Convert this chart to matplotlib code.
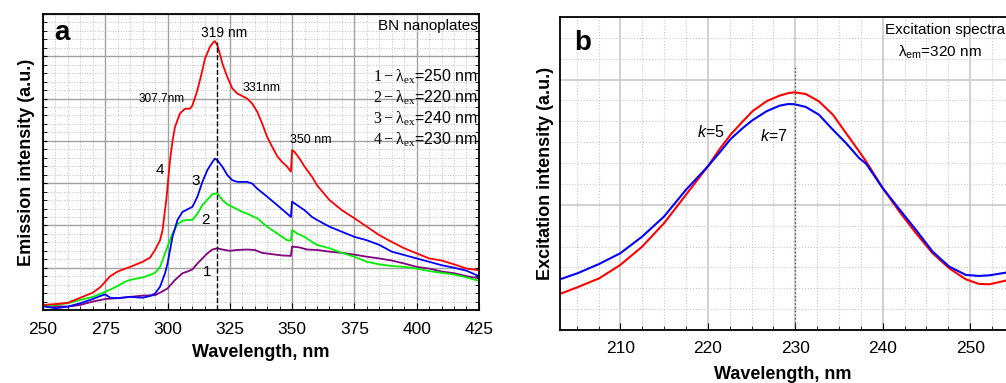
import numpy as np
import matplotlib
matplotlib.use("Agg")
import matplotlib.pyplot as plt
from matplotlib.ticker import MultipleLocator

plt.rcParams['font.family'] = ['Liberation Sans', 'DejaVu Sans']
plt.rcParams['mathtext.fontset'] = 'custom'
plt.rcParams['mathtext.rm'] = 'Liberation Serif'
plt.rcParams['mathtext.it'] = 'Liberation Sans:italic'
plt.rcParams['mathtext.sf'] = 'Liberation Sans'

# ---- panel a: emission spectra ----
wl_4 = [250, 255, 260, 265, 270, 273, 275, 277, 280, 285, 290, 293, 295, 297, 298, 299.5, 300, 301, 302, 303,
        305, 307, 309, 310, 312, 314, 315, 317, 318.5, 319, 320, 321, 322, 324, 326, 328, 330, 332, 334, 336,
        338, 340, 342, 344, 346, 348, 349.5, 350, 351, 353, 355, 358, 360, 365, 370, 375, 380, 385, 390, 395,
        400, 405, 410, 415, 420, 425]
em_4 = [0.12, 0.14, 0.17, 0.29, 0.41, 0.54, 0.67, 0.80, 0.91, 1.02, 1.14, 1.24, 1.42, 1.65, 1.89, 2.6, 2.91, 3.54, 4.0, 4.33,
        4.65, 4.76, 4.76, 4.84, 5.2, 5.67, 5.94, 6.22, 6.34, 6.36, 6.26, 6.06, 5.83, 5.51, 5.24, 5.12, 5.06, 5.0, 4.88, 4.69,
        4.41, 4.09, 3.86, 3.64, 3.5, 3.39, 3.27, 3.78, 3.74, 3.58, 3.39, 3.15, 2.95, 2.6, 2.36, 2.17, 1.97, 1.77, 1.61, 1.46,
        1.34, 1.22, 1.17, 1.08, 0.98, 0.94]

wl_3 = [250, 255, 260, 265, 270, 273, 275, 277, 280, 285, 290, 293, 295, 297, 299, 300, 302, 304, 306, 308,
        310, 312, 314, 316, 318, 319, 320, 322, 324, 326, 328, 332, 334, 336, 340, 344, 348, 349.5, 350, 352,
        355, 358, 360, 365, 370, 375, 380, 385, 390, 395, 400, 405, 410, 415, 420, 425]
em_3 = [0.09, 0.04, 0.08, 0.16, 0.26, 0.33, 0.37, 0.29, 0.28, 0.31, 0.29, 0.33, 0.39, 0.55, 0.87, 1.1, 1.73, 2.13, 2.32, 2.38,
        2.44, 2.68, 3.03, 3.31, 3.5, 3.58, 3.54, 3.39, 3.19, 3.07, 3.03, 3.03, 2.99, 2.87, 2.68, 2.48, 2.28, 2.2, 2.56, 2.48,
        2.36, 2.2, 2.13, 1.97, 1.85, 1.73, 1.65, 1.54, 1.38, 1.3, 1.22, 1.14, 1.06, 1.0, 0.93, 0.8]

wl_2 = [250, 255, 260, 265, 270, 275, 278, 280, 283, 285, 288, 290, 293, 295, 297, 299, 300, 302, 304, 306,
        308, 310, 312, 314, 316, 318, 320, 322, 324, 326, 330, 332, 334, 336, 340, 344, 348, 349.5, 350, 352,
        355, 358, 360, 365, 370, 375, 380, 385, 390, 395, 400, 405, 410, 415, 420, 425]
em_2 = [0.09, 0.12, 0.16, 0.24, 0.31, 0.43, 0.51, 0.57, 0.67, 0.71, 0.75, 0.77, 0.83, 0.88, 1.02, 1.34, 1.5, 1.81, 2.03, 2.11,
        2.13, 2.13, 2.28, 2.48, 2.61, 2.74, 2.76, 2.6, 2.5, 2.44, 2.32, 2.28, 2.22, 2.17, 1.97, 1.81, 1.65, 1.64, 1.89, 1.81,
        1.73, 1.61, 1.54, 1.46, 1.35, 1.26, 1.14, 1.08, 1.04, 1.02, 0.98, 0.92, 0.88, 0.84, 0.77, 0.69]

wl_1 = [250, 255, 260, 265, 270, 275, 280, 285, 290, 295, 297, 300, 303, 306, 308, 310, 312, 314, 316, 318,
        320, 322, 325, 328, 332, 335, 338, 342, 346, 349.5, 350, 353, 356, 360, 365, 370, 375, 380, 385, 390,
        395, 400, 405, 410, 415, 420, 425]
em_1 = [0.12, 0.09, 0.08, 0.12, 0.2, 0.26, 0.28, 0.31, 0.34, 0.35, 0.41, 0.51, 0.71, 0.87, 0.91, 0.96, 1.1, 1.22, 1.34, 1.43,
        1.46, 1.43, 1.4, 1.42, 1.43, 1.42, 1.35, 1.32, 1.29, 1.28, 1.5, 1.48, 1.43, 1.42, 1.38, 1.35, 1.31, 1.26, 1.22, 1.17,
        1.1, 1.02, 0.98, 0.91, 0.87, 0.8, 0.75]

legend_lines = [r"$\mathrm{1-\lambda}_{\mathrm{ex}}$=250 nm", r"$\mathrm{2-\lambda}_{\mathrm{ex}}$=220 nm",
                r"$\mathrm{3-\lambda}_{\mathrm{ex}}$=240 nm", r"$\mathrm{4-\lambda}_{\mathrm{ex}}$=230 nm"]

# ---- panel b: excitation spectra ----
wl_b = [203.1, 205.1, 207.6, 210, 212.5, 215, 217.5, 220, 221.3, 222.6, 224, 225.1, 226.7, 228.2, 229.2, 229.9,
        231.2, 232.7, 234.3, 235.8, 237.3, 238.1, 240, 241.9, 243.8, 245.7, 247.6, 249.5, 251, 252.2, 254.1]
ex_k5 = [1.73, 2.05, 2.48, 3.12, 4.0, 5.12, 6.48, 7.84, 8.64, 9.36, 10.0, 10.48, 10.96, 11.23, 11.35, 11.39,
         11.31, 10.96, 10.32, 9.44, 8.56, 8.08, 6.8, 5.68, 4.64, 3.68, 2.96, 2.43, 2.21, 2.19, 2.37]
ex_k7 = [2.43, 2.72, 3.17, 3.68, 4.48, 5.44, 6.72, 7.84, 8.48, 9.15, 9.68, 10.05, 10.48, 10.75, 10.83, 10.82,
         10.69, 10.32, 9.6, 8.96, 8.24, 7.97, 6.8, 5.79, 4.8, 3.76, 3.04, 2.64, 2.59, 2.62, 2.75]

fig = plt.figure(figsize=(10.06, 3.83), dpi=100)

# panel a
ax = fig.add_axes([0.0427, 0.1906, 0.4334, 0.7728])
ax.plot(wl_1, em_1, color='#800080', lw=1.3)
ax.plot(wl_2, em_2, color='#00ee00', lw=1.3)
ax.plot(wl_3, em_3, color='#0000ff', lw=1.3)
ax.plot(wl_4, em_4, color='#ff0000', lw=1.3)
ax.plot([319.7, 319.7], [0, 6.35], 'k--', lw=1.0)
ax.set_xlim(250, 425)
ax.set_ylim(0, 7)
ax.xaxis.set_major_locator(MultipleLocator(25))
ax.xaxis.set_minor_locator(MultipleLocator(5))
ax.yaxis.set_major_locator(MultipleLocator(1))
ax.yaxis.set_minor_locator(MultipleLocator(0.2))
ax.grid(which='major', color='#a0a0a0', lw=1.0, ls='-')
ax.grid(which='minor', color='#c0c0c0', lw=0.7, ls=':')
ax.tick_params(which='both', direction='in', left=True, right=True, top=False)
ax.tick_params(axis='y', which='both', labelleft=False, length=3)
ax.tick_params(axis='x', which='major', length=5, labelsize=12.5, pad=8.5)
ax.tick_params(axis='x', which='minor', length=3)
for s in ax.spines.values():
    s.set_linewidth(1.3)
ax.set_axisbelow(True)
ax.set_xlabel("Wavelength, nm", fontsize=13, fontweight='bold', labelpad=5)
ax.set_ylabel("Emission intensity (a.u.)", fontsize=13, fontweight='bold', labelpad=6)

ax.text(257.6, 6.54, "a", fontsize=20, fontweight='bold', ha='center', va='center')
ax.text(322.7, 6.56, "319 nm", fontsize=10, ha='center', va='center')
ax.text(424.5, 6.72, "BN nanoplates", fontsize=11, ha='right', va='center')
ax.text(297.5, 5.0, "307.7nm", fontsize=8.5, ha='center', va='center')
ax.text(337.8, 5.26, "331nm", fontsize=9, ha='center', va='center')
ax.text(357.5, 4.03, "350 nm", fontsize=9, ha='center', va='center')
for i, s in enumerate(legend_lines):
    ax.text(424.5, 5.53 - 0.5 * i, s, fontsize=11.5, ha='right', va='center')
ax.text(296.8, 3.31, "4", fontsize=11, ha='center', va='center')
ax.text(311.4, 3.06, "3", fontsize=11, ha='center', va='center')
ax.text(315.1, 2.13, "2", fontsize=11, ha='center', va='center')
ax.text(315.8, 0.91, "1", fontsize=11, ha='center', va='center')

# panel b
bx = fig.add_axes([0.5567, 0.1384, 0.4433, 0.8172])
bx.plot(wl_b, ex_k5, color='#ff0000', lw=1.5)
bx.plot(wl_b, ex_k7, color='#0000ff', lw=1.5)
bx.plot([230, 230], [0, 12.65], color='#555555', ls=':', lw=1.0)
bx.set_xlim(203.1, 254.1)
bx.set_ylim(0, 15)
bx.xaxis.set_major_locator(MultipleLocator(10))
bx.xaxis.set_minor_locator(MultipleLocator(2.5))
bx.yaxis.set_major_locator(MultipleLocator(6))
bx.yaxis.set_minor_locator(MultipleLocator(1))
bx.grid(which='major', color='#c8c8c8', lw=1.2, ls='-')
bx.grid(which='minor', color='#c8c8c8', lw=0.8, ls=':')
bx.tick_params(which='both', direction='in', top=False, right=False, left=False)
bx.tick_params(axis='y', which='both', labelleft=False)
bx.tick_params(axis='x', which='major', length=5, labelsize=12.5, pad=8)
bx.tick_params(axis='x', which='minor', length=3)
bx.spines['right'].set_visible(False)
for s in ['left', 'bottom', 'top']:
    bx.spines[s].set_linewidth(1.3)
bx.set_axisbelow(True)
bx.set_xlabel("Wavelength, nm", fontsize=13, fontweight='bold', labelpad=7)
bx.set_ylabel("Excitation intensity (a.u.)", fontsize=13, fontweight='bold', labelpad=4)

bx.text(205.7, 13.76, "b", fontsize=20, fontweight='bold', ha='center', va='center')
bx.text(254.0, 14.37, "Excitation spectra", fontsize=11, ha='right', va='center')
bx.text(246.5, 13.3, r"$\mathsf{\lambda}_{\mathsf{em}}$=320 nm", fontsize=11, ha='center', va='center')
bx.text(220.3, 9.5, r"$k$=5", fontsize=11.5, ha='center', va='center')
bx.text(227.5, 9.3, r"$k$=7", fontsize=11.5, ha='center', va='center')

fig.savefig("out.png", dpi=100)
